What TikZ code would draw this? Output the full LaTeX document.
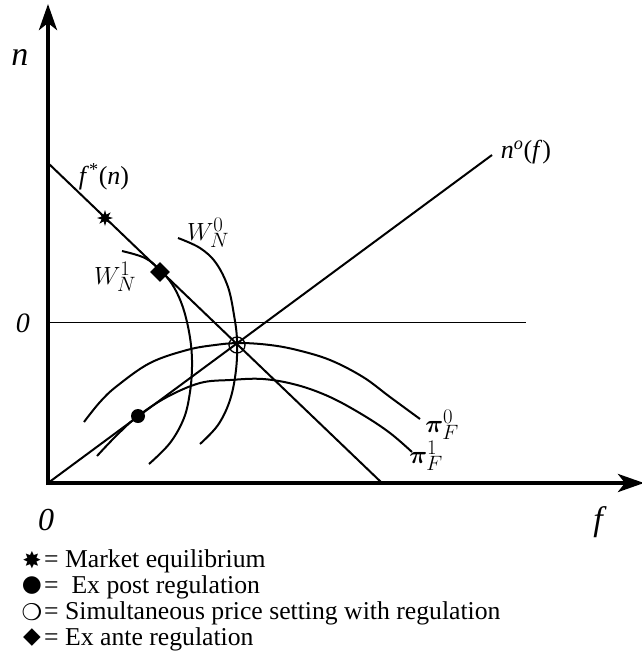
\documentclass[tikz,border=0pt]{standalone}
\usepackage{bm}
\usepackage{fontspec}
\setmainfont{Liberation Serif}
\newfontfamily\symfont{DejaVu Sans}
\usetikzlibrary{arrows.meta,shapes.geometric}
\tikzset{
  axisline/.style={line width=4pt,-{Stealth[length=26pt,width=18pt,inset=7pt]}},
  curveline/.style={line width=2pt},
  biglbl/.style={inner sep=0pt,font=\fontsize{34}{36}\selectfont},
  midlbl/.style={inner sep=0pt,font=\fontsize{26}{28}\selectfont},
  leglbl/.style={inner sep=0pt,anchor=base west,font=\fontsize{25.7}{28}\selectfont},
  legsym/.style={inner sep=0pt,font=\symfont\fontsize{23}{24}\selectfont},
}
\begin{document}
\begin{tikzpicture}[x=1pt,y=-1pt]
\useasboundingbox (0,0) rectangle (642,667);
% coordinates
\coordinate (O) at (48,483);
\coordinate (Ostart) at (48,485);
\coordinate (Oleft) at (46,483);
\coordinate (ytop) at (48,4);
\coordinate (xend) at (644,483);
\coordinate (fs0) at (48,163);
\coordinate (fs1) at (382,483);
\coordinate (no1) at (492,155);
\coordinate (z0) at (48,322);
\coordinate (z1) at (526,322);
% axes
\draw[axisline] (Ostart) -- (ytop);
\draw[axisline] (Oleft) -- (xend);
% zero line
\draw[line width=1pt] (z0) -- (z1);
% straight lines
\draw[curveline] (fs0) -- (fs1);
\draw[curveline] (O) -- (no1);
% curves
\draw[curveline] plot[smooth,tension=0.6] coordinates {(178,238) (200,248) (216,263) (228,287) (234,315) (237,340) (236,370) (230,400) (218,425) (200,444)};
\draw[curveline] plot[smooth,tension=0.6] coordinates {(122,251) (145,258) (160,270) (172,284) (181,302) (187,322) (191,345) (192,367) (190,392) (184,418) (170,443) (149,464)};
\draw[curveline] plot[smooth,tension=0.6] coordinates {(84,422) (100,402) (117,386) (150,363) (187,350) (215,345) (240,343) (270,345) (297,350) (330,360) (363,377) (390,397) (420,419)};
\draw[curveline] plot[smooth,tension=0.6] coordinates {(97,456) (117,435) (138,416) (167,397) (200,383) (230,380) (263,379) (297,385) (330,397) (363,415) (390,433) (412,452)};
% markers
\node[star,star points=8,star point ratio=2.2,fill,minimum size=16pt,inner sep=0pt] (eq) at (105,218) {};
\node[diamond,fill,minimum size=20pt,inner sep=0pt] (ea) at (160,272) {};
\node[circle,fill,minimum size=14pt,inner sep=0pt] (ep) at (138,416) {};
\node[circle,draw,line width=1.3pt,minimum size=16pt,inner sep=0pt] (sim) at (237,345) {};
% labels
\node[biglbl] (nlab) at (20,57) {\textit{n}};
\node[biglbl,font=\fontsize{28}{30}\selectfont] (zl) at (23,323) {\textit{0}};
\node[biglbl,font=\fontsize{32}{34}\selectfont] (zb) at (46,520) {\textit{0}};
\node[biglbl] (flab) at (600,522) {\textit{f}};
\node[midlbl] (fstar) at (104,177) {\textit{f}\textsuperscript{*}(\textit{n})};
\node[midlbl] (nof) at (526,152) {\textit{n}\textsuperscript{\textit{o}}(\textit{f})};
\node[midlbl,font=\fontsize{28}{30}\selectfont] (w0) at (208,233) {$W_N^0$};
\node[midlbl,font=\fontsize{28}{30}\selectfont] (w1) at (115,277) {$W_N^1$};
\node[midlbl,font=\fontsize{29}{30}\selectfont] (p0) at (442,425) {$\bm{\pi}_F^0$};
\node[midlbl,font=\fontsize{29}{30}\selectfont] (p1) at (426,456) {$\bm{\pi}_F^1$};
% legend
\node[legsym] (s1) at (32,560) {✸};
\node[leglbl] (lg1) at (44,567) {= Market equilibrium};
\node[legsym] (s2) at (32,586) {●};
\node[leglbl] (lg2) at (44,593) {= \ Ex post regulation};
\node[legsym] (s3) at (32,612) {❍};
\node[leglbl] (lg3) at (44,619) {= Simultaneous price setting with regulation};
\node[legsym] (s4) at (32,638) {◆};
\node[leglbl] (lg4) at (44,645) {= Ex ante regulation};
\end{tikzpicture}
\end{document}
